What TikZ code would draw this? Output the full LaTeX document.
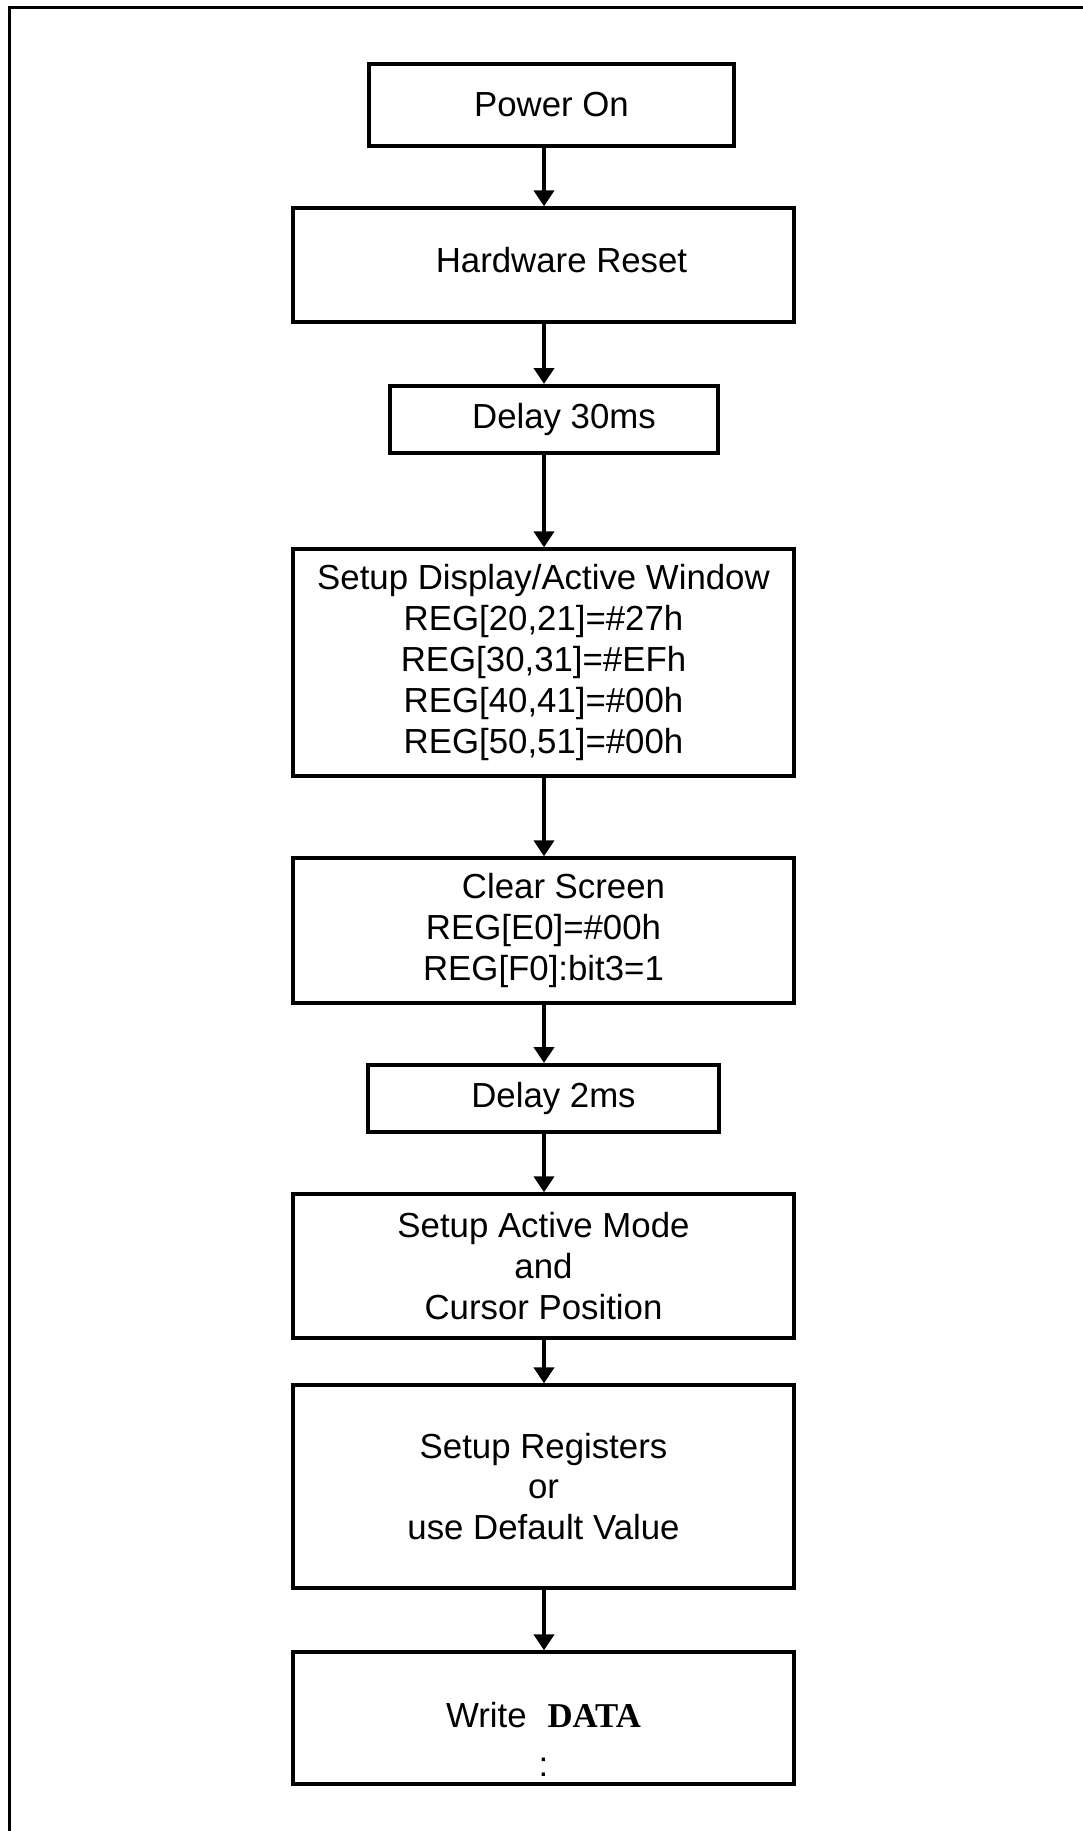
\documentclass[tikz,border=0pt]{standalone}
\usepackage{fontspec}
\setmainfont{Liberation Sans}
\newfontfamily\datafont{Liberation Serif}
\usetikzlibrary{positioning,arrows.meta}

\tikzset{
	stepbox/.style={
		draw=black,
		line width=1.7pt,
		fill=white,
		align=center,
		inner sep=0pt,
		font=\fontsize{17.4}{20.4}\selectfont
	},
	flow/.style={line width=2pt, -{Triangle[width=10pt,length=8pt]}},
	frameline/.style={line width=1.5pt}
}

\begin{document}
\begin{tikzpicture}[x=0.5pt,y=-0.5pt]
	\useasboundingbox (0,0) rectangle (1082,1831);
	% outer frame, cut by the page on the right and at the bottom
	\draw[frameline] (9,1900) -- (9,7) -- (1150,7);
	
	\coordinate (axis) at (544,0);
	
	\node[stepbox, minimum width=182.5pt, minimum height=41pt] (power) at (551.5,105) {Power On};
	\node[stepbox, minimum width=250.5pt, minimum height=57pt] (reset) at (543.5,265) {\hspace*{18pt}\raisebox{2.5pt}[\height][\depth]{Hardware Reset}};
	\node[stepbox, line width=2pt, minimum width=164pt, minimum height=33.5pt] (delaya) at (554,419.5) {\hspace*{10pt}Delay 30ms};
	\node[stepbox, minimum width=250.5pt, minimum height=113.5pt] (display) at (543.5,662.5) {
		Setup Display/Active Window\\
		REG[20,21]=\#27h\\
		REG[30,31]=\#EFh\\
		REG[40,41]=\#00h\\
		REG[50,51]=\#00h};
	\node[stepbox, minimum width=250.5pt, minimum height=72.5pt] (clear) at (543.5,930.5) {
		\hspace*{20pt}Clear Screen\\
		REG[E0]=\#00h\\
		REG[F0]:bit3=1};
	\node[stepbox, line width=2pt, minimum width=175.5pt, minimum height=33.5pt] (delayb) at (543.5,1098.5) {\hspace*{10pt}Delay 2ms};
	\node[stepbox, minimum width=250.5pt, minimum height=72pt] (mode) at (543.5,1266) {
		Setup Active Mode\\
		and\\
		Cursor Position};
	\node[stepbox, minimum width=250.5pt, minimum height=101.5pt] (regs) at (543.5,1486.5) {
		Setup Registers\\
		or\\
		use Default Value};
	\node[stepbox, minimum width=250.5pt, minimum height=66pt] (write) at (543.5,1718) {
		\raisebox{-13pt}[\height][\depth]{\begin{tabular}{@{}c@{}}
			Write\hspace{0.6em}{\datafont\bfseries DATA}\\[4pt]
			:
		\end{tabular}}};
	
	\draw[flow] (power.south -| axis) -- (reset.north -| axis);
	\draw[flow] (reset.south -| axis) -- (delaya.north -| axis);
	\draw[flow] (delaya.south -| axis) -- (display.north -| axis);
	\draw[flow] (display.south -| axis) -- (clear.north -| axis);
	\draw[flow] (clear.south -| axis) -- (delayb.north -| axis);
	\draw[flow] (delayb.south -| axis) -- (mode.north -| axis);
	\draw[flow] (mode.south -| axis) -- (regs.north -| axis);
	\draw[flow] (regs.south -| axis) -- (write.north -| axis);
\end{tikzpicture}
\end{document}
